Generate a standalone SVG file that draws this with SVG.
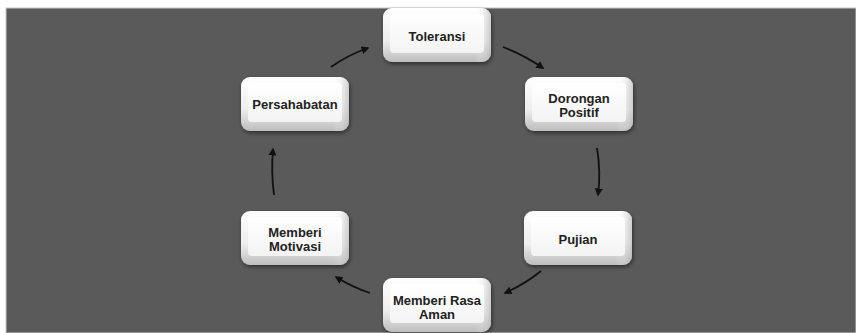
<svg xmlns="http://www.w3.org/2000/svg" width="856" height="333" viewBox="0 0 856 333">
<style>
.lbl{font-family:"Liberation Sans",Arial,sans-serif;font-weight:bold;font-size:13px;fill:#222;text-anchor:middle;dominant-baseline:central}
.arr{fill:none;stroke:#111;stroke-width:1.8;marker-end:url(#ah)}
</style>
<defs>
<linearGradient id="outer" x1="0" y1="0" x2="0" y2="1">
<stop offset="0" stop-color="#ffffff"/>
<stop offset="0.6" stop-color="#eeeeee"/>
<stop offset="1" stop-color="#bdbdbd"/>
</linearGradient>
<linearGradient id="face" x1="0" y1="0" x2="0" y2="1">
<stop offset="0" stop-color="#ffffff"/>
<stop offset="1" stop-color="#f3f3f3"/>
</linearGradient>
<linearGradient id="side" x1="0" y1="0" x2="1" y2="0">
<stop offset="0" stop-color="#ffffff" stop-opacity="0"/>
<stop offset="0.85" stop-color="#ffffff" stop-opacity="0"/>
<stop offset="1" stop-color="#b0b0b0" stop-opacity="0.6"/>
</linearGradient>
<filter id="sh" x="-20%" y="-20%" width="140%" height="150%">
<feDropShadow dx="1" dy="2" stdDeviation="2" flood-color="#000" flood-opacity="0.5"/>
</filter>
<marker id="ah" viewBox="0 0 10 10" refX="8" refY="5" markerWidth="4.5" markerHeight="4.5" orient="auto">
<path d="M0,0 L10,5 L0,10 Z" fill="#111"/>
</marker>
<g id="btn">
<rect x="0" y="0" width="108" height="54" rx="9" fill="url(#outer)" filter="url(#sh)"/>
<rect x="0" y="0" width="108" height="54" rx="9" fill="url(#side)"/>
<rect x="7" y="6" width="94" height="39" rx="4" fill="url(#face)"/>
</g>
</defs>
<rect x="0" y="0" width="856" height="333" fill="#ffffff"/>
<rect x="6" y="8" width="850" height="325" fill="#5a5a5a" stroke="#c8c8c8" stroke-width="1"/>
<g id="connectors">
<path class="arr" d="M503,47 Q524,55 543,68"/>
<path class="arr" d="M597,148 Q601,172 598,195"/>
<path class="arr" d="M541,271 Q525,284 505,293"/>
<path class="arr" d="M370,293 Q352,287 336,277"/>
<path class="arr" d="M274,195 Q271,172 273,149"/>
<path class="arr" d="M331,67 Q348,55 368,48"/>
</g>
<g id="n-toleransi">
<use href="#btn" x="383" y="8"/>
<text class="lbl" x="437" y="36">Toleransi</text>
</g>
<g id="n-dorongan">
<use href="#btn" x="525" y="77"/>
<text class="lbl" x="579" y="98">Dorongan</text>
<text class="lbl" x="579" y="112">Positif</text>
</g>
<g id="n-pujian">
<use href="#btn" x="524" y="211"/>
<text class="lbl" x="578" y="239">Pujian</text>
</g>
<g id="n-rasa-aman">
<use href="#btn" x="383" y="278"/>
<text class="lbl" x="437" y="300">Memberi Rasa</text>
<text class="lbl" x="437" y="314">Aman</text>
</g>
<g id="n-motivasi">
<use href="#btn" x="241" y="211"/>
<text class="lbl" x="295" y="232">Memberi</text>
<text class="lbl" x="295" y="246">Motivasi</text>
</g>
<g id="n-persahabatan">
<use href="#btn" x="241" y="77"/>
<text class="lbl" x="295" y="104">Persahabatan</text>
</g>
</svg>
